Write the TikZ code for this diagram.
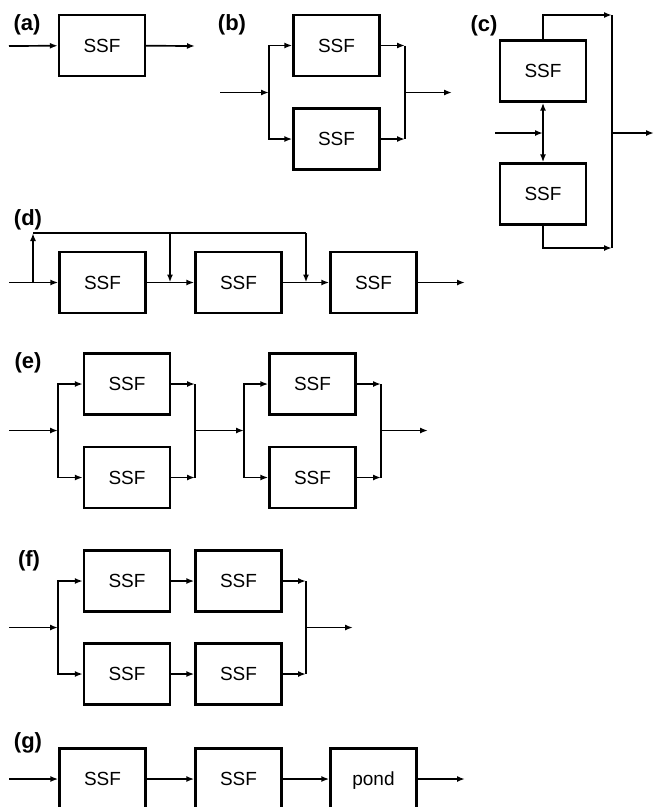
\documentclass[tikz,border=0pt]{standalone}
\usepackage{fontspec}
\setmainfont{Liberation Sans}
\usetikzlibrary{arrows.meta}
\begin{document}
\begin{tikzpicture}[x=1pt,y=-1pt,
  ssf/.style={draw, line width=2.4pt, minimum width=86pt, minimum height=61pt, inner sep=0pt, text height=13.6pt, text depth=0pt, font=\fontsize{19}{21}\selectfont},
  conn/.style={line width=1.7pt, -{Latex[length=8pt,width=6pt]}},
  conn2/.style={line width=1.7pt, {Latex[length=8pt,width=6pt]}-{Latex[length=8pt,width=6pt]}},
  wire/.style={line width=1.7pt},
  lab/.style={font=\bfseries\fontsize{22}{24}\selectfont, inner sep=0pt}]
\useasboundingbox (0,0) rectangle (654,807);
\clip (0,0) rectangle (654,807);
% (a)
\node[lab] (la) at (27,25) {(a)};
\node[ssf] (a1) at (102,45.5) {SSF};
\coordinate (ain) at (9,46);
\coordinate (aout) at (195,46);
\draw[conn] (ain) -- (a1);
\draw[conn] (a1) -- (aout);
% (b)
\node[lab] (lb) at (232,25) {(b)};
\node[ssf] (b1) at (336.5,45.5) {SSF};
\node[ssf] (b2) at (336.5,139) {SSF};
\coordinate (bin) at (220,92.5);
\coordinate (bj) at (269,92.5);
\coordinate (bo) at (405,92.5);
\coordinate (bout) at (452,92.5);
\draw[conn] (bin) -- (bj);
\draw[conn] (bj) |- (b1);
\draw[conn] (bj) |- (b2);
\draw[conn] (b1.east) -- (b1.east -| bo);
\draw[conn] (b2.east) -- (b2.east -| bo);
\draw[wire] (b1.east -| bo) -- (b2.east -| bo);
\draw[conn] (bo) -- (bout);
% (c)
\node[lab] (lc) at (484,26) {(c)};
\node[ssf] (c1) at (543,71) {SSF};
\node[ssf] (c2) at (543,194) {SSF};
\coordinate (ct) at (612,15);
\coordinate (cb) at (612,248);
\coordinate (cv) at (612,133);
\coordinate (cout) at (654,133);
\coordinate (cin) at (495,133);
\coordinate (cj) at (543,133);
\draw[conn] (c1.north) |- (ct);
\draw[conn] (c2.south) |- (cb);
\draw[wire] (ct) -- (cb);
\draw[conn] (cv) -- (cout);
\draw[conn] (cin) -- (cj);
\draw[conn2] (c1) -- (c2);
% (d)
\node[lab] (ld) at (28,220) {(d)};
\node[ssf] (d1) at (102.5,282.5) {SSF};
\node[ssf] (d2) at (238.5,282.5) {SSF};
\node[ssf] (d3) at (373.5,282.5) {SSF};
\coordinate (din) at (9,282.5);
\coordinate (dt) at (33,282.5);
\coordinate (dtop) at (33,233);
\coordinate (dm) at (170,233);
\coordinate (dr) at (306,233);
\coordinate (dout) at (465,282.5);
\draw[conn] (din) -- (d1);
\draw[conn] (dt) -- (dtop);
\draw[wire] (dtop) -- (dr);
\draw[conn] (dm) -- (dm |- d1);
\draw[conn] (dr) -- (dr |- d2);
\draw[conn] (d1) -- (d2);
\draw[conn] (d2) -- (d3);
\draw[conn] (d3) -- (dout);
% (e)
\node[lab] (le) at (28,363) {(e)};
\node[ssf] (e1) at (127,384) {SSF};
\node[ssf] (e2) at (127,477.5) {SSF};
\node[ssf] (e3) at (312.5,384) {SSF};
\node[ssf] (e4) at (312.5,477.5) {SSF};
\coordinate (ein) at (9,430.5);
\coordinate (ej1) at (58,430.5);
\coordinate (eo1) at (195,430.5);
\coordinate (ej2) at (244,430.5);
\coordinate (eo2) at (381,430.5);
\coordinate (eout) at (428,430.5);
\draw[conn] (ein) -- (ej1);
\draw[conn] (ej1) |- (e1);
\draw[conn] (ej1) |- (e2);
\draw[conn] (e1.east) -- (e1.east -| eo1);
\draw[conn] (e2.east) -- (e2.east -| eo1);
\draw[wire] (e1.east -| eo1) -- (e2.east -| eo1);
\draw[conn] (eo1) -- (ej2);
\draw[conn] (ej2) |- (e3);
\draw[conn] (ej2) |- (e4);
\draw[conn] (e3.east) -- (e3.east -| eo2);
\draw[conn] (e4.east) -- (e4.east -| eo2);
\draw[wire] (e3.east -| eo2) -- (e4.east -| eo2);
\draw[conn] (eo2) -- (eout);
% (f)
\node[lab] (lf) at (29,561) {(f)};
\node[ssf] (f1) at (127,581) {SSF};
\node[ssf] (f2) at (238.5,581) {SSF};
\node[ssf] (f3) at (127,674) {SSF};
\node[ssf] (f4) at (238.5,674) {SSF};
\coordinate (fin) at (9,627.5);
\coordinate (fj) at (58,627.5);
\coordinate (fo) at (306,627.5);
\coordinate (fout) at (353,627.5);
\draw[conn] (fin) -- (fj);
\draw[conn] (fj) |- (f1);
\draw[conn] (fj) |- (f3);
\draw[conn] (f1) -- (f2);
\draw[conn] (f3) -- (f4);
\draw[conn] (f2.east) -- (f2.east -| fo);
\draw[conn] (f4.east) -- (f4.east -| fo);
\draw[wire] (f2.east -| fo) -- (f4.east -| fo);
\draw[conn] (fo) -- (fout);
% (g)
\node[lab] (lg) at (28,743) {(g)};
\node[ssf] (g1) at (102.5,779) {SSF};
\node[ssf] (g2) at (238.5,779) {SSF};
\node[ssf] (g3) at (373.5,779) {pond};
\coordinate (gin) at (9,779);
\coordinate (gout) at (465,779);
\draw[conn] (gin) -- (g1);
\draw[conn] (g1) -- (g2);
\draw[conn] (g2) -- (g3);
\draw[conn] (g3) -- (gout);
\end{tikzpicture}
\end{document}
